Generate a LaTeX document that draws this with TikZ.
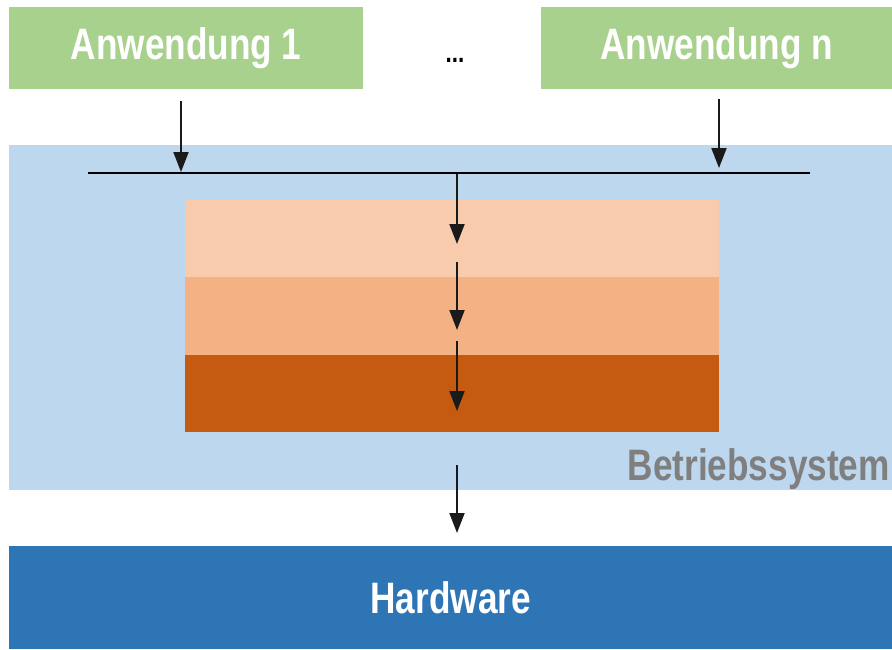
\documentclass[tikz,border=0pt]{standalone}
\usepackage{fontspec}
\setmainfont{Liberation Sans}[FakeStretch=0.8]
\usetikzlibrary{arrows.meta}
\definecolor{appgreen}{HTML}{A9D18E}
\definecolor{osblue}{HTML}{BDD7EE}
\definecolor{layerA}{HTML}{F8CBAD}
\definecolor{layerB}{HTML}{F4B183}
\definecolor{layerC}{HTML}{C55A11}
\definecolor{hwblue}{HTML}{2E75B6}
\definecolor{osgrey}{HTML}{7F7F7F}
\definecolor{arrowblack}{HTML}{1A1A1A}
\begin{document}
\begin{tikzpicture}[x=1pt,y=-1pt,
  box/.style={draw=none, inner sep=0pt, anchor=north west, font=\bfseries\fontsize{44}{48}\selectfont, text=white},
  layer/.style={draw=none, inner sep=0pt, anchor=north west, minimum width=534pt},
  arr/.style={draw=arrowblack, line width=2pt, -{Triangle[length=20pt,width=15pt]}}]
\useasboundingbox (0,0) rectangle (892,649);
\node[box, fill=appgreen, minimum width=354pt, minimum height=82pt] (app1) at (9,7) {Anwendung 1};
\node[box, fill=appgreen, minimum width=351pt, minimum height=82pt] (appn) at (541,7) {Anwendung n};
\node[font=\bfseries\fontsize{28}{32}\selectfont, inner sep=0pt, anchor=base] (dots) at (455,62) {...};
\node[box, fill=osblue, minimum width=883pt, minimum height=345pt] (os) at (9,145) {};
\node[anchor=base east, inner sep=0pt, font=\bfseries\fontsize{44}{48}\selectfont, text=osgrey] (oslabel) at (890,480) {Betriebssystem};
\node[layer, fill=layerA, minimum height=77pt] (l1) at (185,200) {};
\node[layer, fill=layerB, minimum height=78pt] (l2) at (185,277) {};
\node[layer, fill=layerC, minimum height=77pt] (l3) at (185,355) {};
\node[box, fill=hwblue, minimum width=883pt, minimum height=103pt] (hw) at (9,546) {Hardware};
\draw[draw=black, line width=2.6pt] (88,173) coordinate (busL) -- (810,173) coordinate (busR);
\coordinate (a1s) at (181,101); \coordinate (a1e) at (181,172);
\coordinate (ans) at (719,99);  \coordinate (ane) at (719,168);
\coordinate (b1s) at (457,174); \coordinate (b1e) at (457,244);
\coordinate (b2s) at (457,262); \coordinate (b2e) at (457,330);
\coordinate (b3s) at (457,341); \coordinate (b3e) at (457,411);
\coordinate (b4s) at (457,465); \coordinate (b4e) at (457,533);
\draw[arr] (a1s) -- (a1e);
\draw[arr] (ans) -- (ane);
\draw[arr] (b1s) -- (b1e);
\draw[arr] (b2s) -- (b2e);
\draw[arr] (b3s) -- (b3e);
\draw[arr] (b4s) -- (b4e);
\end{tikzpicture}
\end{document}
